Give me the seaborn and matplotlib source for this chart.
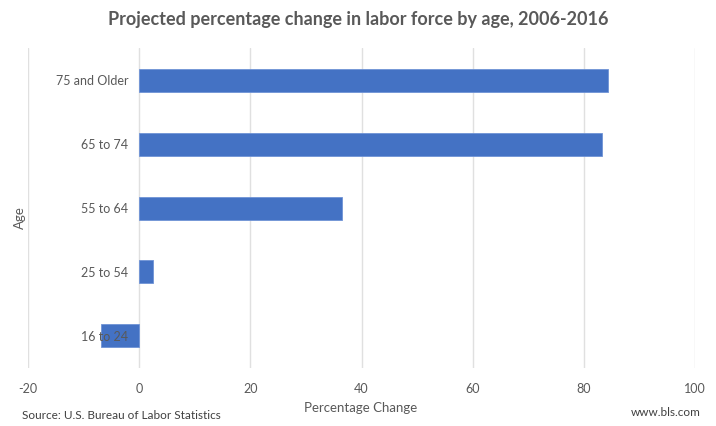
import matplotlib
matplotlib.use("Agg")
import matplotlib.pyplot as plt
import matplotlib.transforms as mtransforms
import seaborn as sns
import pandas as pd

ages = ["75 and Older", "65 to 74", "55 to 64", "25 to 54", "16 to 24"]
changes = [84.3, 83.3, 36.5, 2.5, -6.8]
x_ticks = [-20, 0, 20, 40, 60, 80, 100]

title = "Projected percentage change in labor force by age, 2006-2016"
source = "Source: U.S. Bureau of Labor Statistics"
site = "www.bls.com"

sns.set_theme(style="white")
plt.rcParams["font.family"] = ["Lato", "DejaVu Sans"]

df = pd.DataFrame({"Age": ages, "Change": changes})

fig = plt.figure(figsize=(7.16, 4.27), dpi=100)
ax = fig.add_axes([0.039, 0.136, 0.932, 0.749])

grey = "#595959"
sns.barplot(data=df, x="Change", y="Age", order=ages, orient="h",
            color="#4472C4", saturation=1, width=0.36, ax=ax, zorder=3,
            edgecolor="#6f93d6", linewidth=0.6)

ax.set_xlim(-20, 100)
ax.set_xticks(x_ticks)
ax.set_xticklabels([str(t) for t in x_ticks], color=grey, fontsize=9)
ax.tick_params(axis="x", length=0, pad=10)
ax.grid(axis="x", color="#e0e0e0", linewidth=1.0, zorder=0)
ax.set_axisbelow(True)
for s in ax.spines.values():
    s.set_visible(False)

# category labels next to the zero line
ax.set_yticklabels([])
ax.tick_params(axis="y", length=0)
offset = mtransforms.offset_copy(ax.transData, fig=fig, x=-11, y=0, units="dots")
for i, lab in enumerate(ages):
    ax.text(0, i, lab, transform=offset, ha="right", va="center",
            color=grey, fontsize=9, zorder=4)

ax.set_xlabel("")
ax.set_ylabel("")
fig.text(0.504, 0.044, "Percentage Change", ha="center", va="center",
         color=grey, fontsize=9.5)
fig.text(0.028, 0.49, "Age", ha="center", va="center", rotation=90,
         color=grey, fontsize=9.5)
fig.text(0.5, 0.955, title, ha="center", va="center", color=grey,
         fontsize=13, fontweight="bold")
fig.text(0.031, 0.014, source, ha="left", va="bottom", color="#404040", fontsize=8.5)
fig.text(0.978, 0.022, site, ha="right", va="bottom", color="#404040", fontsize=8.5)

fig.savefig("out.png", dpi=100)
